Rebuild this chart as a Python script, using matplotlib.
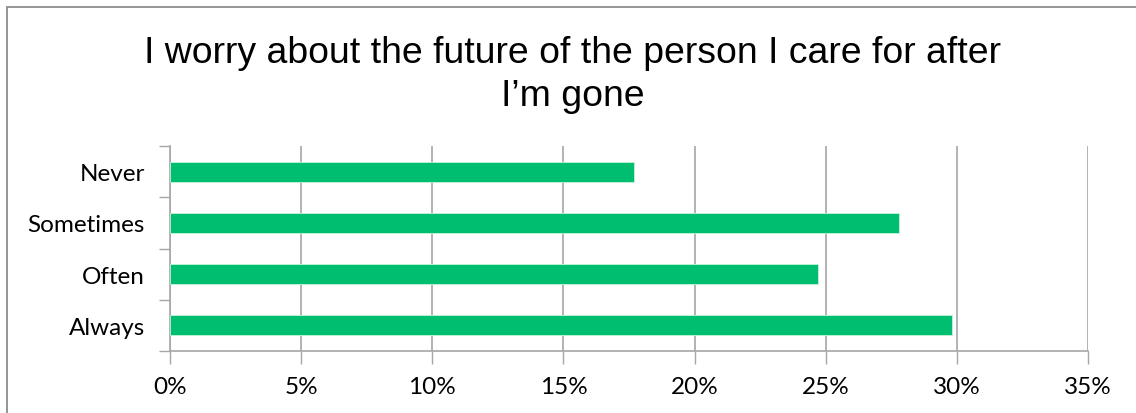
import matplotlib
matplotlib.use("Agg")
import matplotlib.pyplot as plt
import matplotlib.ticker as tk
from matplotlib.patches import Rectangle
import numpy as np

title = "I worry about the future of the person I care for after\nI\u2019m gone"
categories = ["Always", "Often", "Sometimes", "Never"]
shares = [29.8, 24.7, 27.8, 17.7]  # percent of respondents
x_ticks = [0, 5, 10, 15, 20, 25, 30, 35]

bar_color = "#00BE70"
grid_color = "#A6A6A6"
label_font = "Lato"
title_font = "Liberation Sans"

fig = plt.figure(figsize=(11.36, 4.14), dpi=100, facecolor="white")

# chart frame (only left and top edges fall inside the image)
fig.patches.append(Rectangle((7 / 1136, -0.1), 1.2, 1 - 8 / 414 + 0.1,
                             transform=fig.transFigure, fill=False,
                             edgecolor="#8C8C8C", lw=1.3))

ax = fig.add_axes([170 / 1136, 1 - 352 / 414, (1088 - 170) / 1136, (352 - 147) / 414])

y = np.arange(len(categories))
ax.barh(y, shares, height=0.39, color=bar_color, edgecolor="#C8F0DC", lw=0.6, zorder=3)

ax.set_xlim(0, 35)
ax.set_ylim(-0.5, len(categories) - 0.5)
ax.set_xticks(x_ticks)
ax.set_xticklabels([f"{t}%" for t in x_ticks], fontname=label_font, fontsize=17.5)
ax.set_yticks(y)
ax.set_yticklabels(categories, fontname=label_font, fontsize=17.5)

# y ticks sit on the category boundaries
ax.yaxis.set_minor_locator(tk.FixedLocator(np.arange(-0.5, len(categories), 1.0)))
ax.tick_params(axis="y", which="major", length=0, pad=18)
ax.tick_params(axis="y", which="minor", length=8, width=1, color=grid_color)
ax.tick_params(axis="x", which="major", length=9, width=1, color=grid_color, pad=9)

ax.grid(True, axis="x", color=grid_color, lw=1.2, zorder=0)
ax.set_axisbelow(True)
for side in ["top", "right"]:
    ax.spines[side].set_visible(False)
for side in ["left", "bottom"]:
    ax.spines[side].set_color(grid_color)
    ax.spines[side].set_linewidth(1.2)

fig.text(573 / 1136, 1 - 75 / 414, title, ha="center", va="center",
         fontname=title_font, fontsize=26.9, linespacing=1.3)

fig.savefig("out.png", dpi=100, facecolor="white")
